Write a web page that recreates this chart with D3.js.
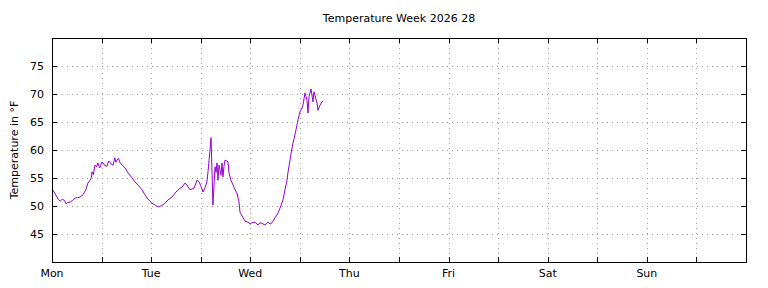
<!DOCTYPE html>
<html><head><meta charset="utf-8">
<script src="https://cdn.jsdelivr.net/npm/d3@7"></script>
<style>body{margin:0;background:#fff}svg{display:block}text{font-family:"DejaVu Sans",sans-serif;font-size:11px;fill:#000}</style>
</head><body><svg id="c" width="768" height="288"></svg>
<script>
const title = "Temperature Week 2026 28";
const yLabel = "Temperature in °F";
const dayLabels = ["Mon","Tue","Wed","Thu","Fri","Sat","Sun"];
const yTicks = [45,50,55,60,65,70,75];
// hours since Monday 00:00
const hours = [0,0.5,1.2,1.6,2.0,2.5,3.0,3.4,3.8,4.4,5.0,5.6,6.2,6.8,7.5,8.2,8.7,9.2,9.5,9.7,10.0,10.4,10.8,11.1,11.4,11.6,12.0,12.35,12.8,13.3,13.7,14.0,14.4,14.8,15.2,15.5,15.7,16.1,16.5,17.0,17.7,18.4,19.4,20.1,20.8,21.8,22.5,23.2,24.2,24.9,25.7,26.6,27.35,28.1,29.05,29.8,30.5,31.5,32.2,32.8,33.4,34.4,35.1,35.6,36.2,36.55,37.0,37.5,37.8,38.25,38.5,38.97,39.46,39.7,39.94,40.18,40.43,40.91,41.15,41.39,41.64,41.88,42.6,42.85,43.33,43.82,44.3,44.78,45.27,45.51,46.24,46.72,47.45,48.0,48.41,49.14,49.87,50.3,50.84,51.56,52.29,52.8,53.26,53.98,54.71,55.19,55.92,56.4,56.89,57.13,57.61,58.0,58.34,59.07,59.55,60.03,60.52,60.76,61.24,61.73,61.97,62.21,62.7,63.18,63.42,64.15,64.39,64.88,65.36,65.6];
const temps = [53.0,52.5,51.6,51.1,50.9,51.2,51.0,50.4,50.6,50.7,51.0,51.4,51.5,51.6,52.0,52.9,54.1,54.6,55.0,56.1,55.6,57.3,57.0,57.7,57.0,56.8,57.8,57.7,57.2,57.1,58.0,57.9,57.4,57.3,58.6,57.8,58.2,58.5,57.7,57.3,56.8,55.9,55.0,54.3,53.75,52.9,52.0,51.25,50.5,50.2,49.8,50.1,50.5,51.1,51.6,52.3,52.9,53.4,54.1,53.6,52.9,53.2,54.6,54.3,53.3,52.5,53.2,54.3,56.4,60.0,62.2,50.2,57.0,56.0,57.7,54.6,57.3,55.5,57.7,55.2,57.1,58.2,57.9,55.9,54.6,53.75,52.9,52.3,50.7,48.9,47.9,47.3,47.1,46.8,47.0,47.1,46.6,47.0,46.9,46.6,47.1,46.8,47.0,47.9,48.75,49.6,51.1,52.9,54.6,56.0,58.2,60.0,61.2,63.6,65.4,66.8,67.5,68.0,70.2,68.9,66.6,69.5,70.9,68.6,70.4,68.4,67.1,68.0,68.6,68.75];

const svg = d3.select("#c");
const L=52, R=746, T=38, B=262;
const x = d3.scaleLinear().domain([0,168]).range([L,R]);
const y = d3.scaleLinear().domain([40,80]).range([B,T]);
const xt = d3.range(0,169,12);

const grid = svg.append("g").attr("stroke","#a0a0a0").attr("stroke-width",1).attr("stroke-dasharray","1,4");
yTicks.forEach(v=>grid.append("line").attr("x1",L).attr("x2",R).attr("y1",Math.round(y(v))+0.5).attr("y2",Math.round(y(v))+0.5));
xt.slice(1,-1).forEach(h=>grid.append("line").attr("y1",T).attr("y2",B).attr("x1",Math.round(x(h))+0.5).attr("x2",Math.round(x(h))+0.5));

// ticks (inward, mirrored)
const tk = svg.append("g").attr("stroke","#000").attr("stroke-width",1);
yTicks.forEach(v=>{const yy=Math.round(y(v))+0.5;
  tk.append("line").attr("x1",L).attr("x2",L+5).attr("y1",yy).attr("y2",yy);
  tk.append("line").attr("x1",R-5).attr("x2",R).attr("y1",yy).attr("y2",yy);});
xt.forEach(h=>{const xx=Math.round(x(h))+0.5;
  tk.append("line").attr("y1",B).attr("y2",B-5).attr("x1",xx).attr("x2",xx);
  tk.append("line").attr("y1",T).attr("y2",T+5).attr("x1",xx).attr("x2",xx);});

const data = hours.map((h,i)=>[h,temps[i]]);
svg.append("path").datum(data).attr("fill","none").attr("stroke","#9400d3").attr("stroke-width",1)
  .attr("stroke-linejoin","round")
  .attr("d",d3.line().x(d=>x(d[0])).y(d=>y(d[1])));

svg.append("rect").attr("x",L+0.5).attr("y",T+0.5).attr("width",R-L).attr("height",B-T).attr("fill","none").attr("stroke","#000");

yTicks.forEach(v=>svg.append("text").attr("x",44).attr("y",y(v)+4).attr("text-anchor","end").text(v));
dayLabels.forEach((d,i)=>svg.append("text").attr("x",x(i*24)).attr("y",277).attr("text-anchor","middle").text(d));
svg.append("text").attr("x",(L+R)/2).attr("y",22).attr("text-anchor","middle").text(title);
svg.append("text").attr("transform",`translate(18,${(T+B)/2}) rotate(-90)`).attr("text-anchor","middle").text(yLabel);
</script></body></html>
